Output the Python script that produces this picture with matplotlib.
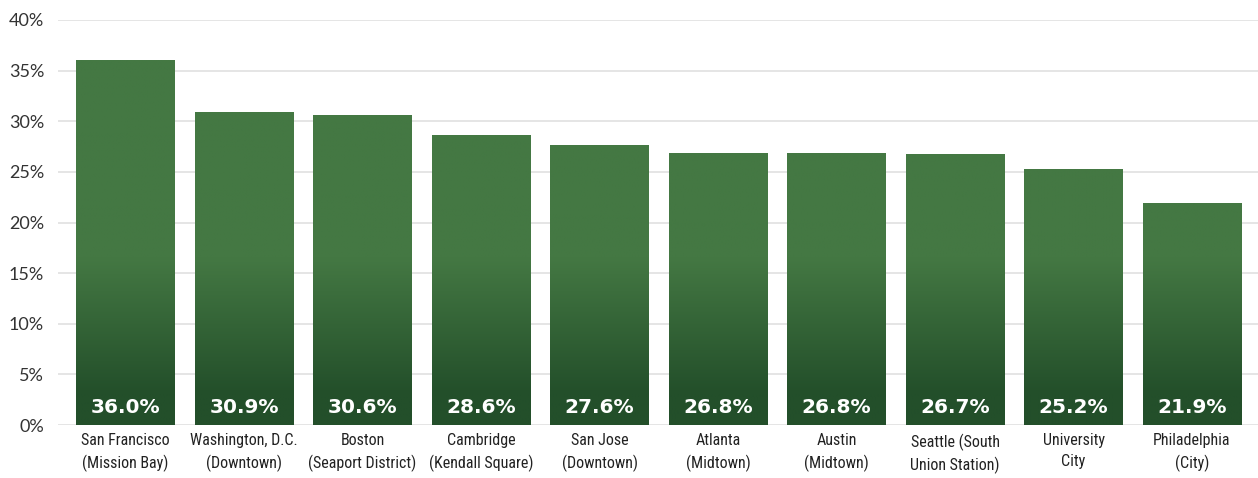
import numpy as np
import matplotlib
matplotlib.use("Agg")
import matplotlib.pyplot as plt
from matplotlib.colors import LinearSegmentedColormap

# data
cities = ["San Francisco\n(Mission Bay)", "Washington, D.C.\n(Downtown)",
          "Boston\n(Seaport District)", "Cambridge\n(Kendall Square)",
          "San Jose\n(Downtown)", "Atlanta\n(Midtown)", "Austin\n(Midtown)",
          "Seattle (South\nUnion Station)", "University\nCity",
          "Philadelphia\n(City)"]
values = [36.0, 30.9, 30.6, 28.6, 27.6, 26.8, 26.8, 26.7, 25.2, 21.9]
yticks = [0, 5, 10, 15, 20, 25, 30, 35, 40]

dark = "#234f2a"
light = "#447843"
cmap = LinearSegmentedColormap.from_list("grn", [dark, light])

fig = plt.figure(figsize=(12.58, 4.78), dpi=100)
ax = fig.add_axes([58 / 1258, 53 / 478, 1200 / 1258, 405 / 478])

x = np.arange(len(values))
width = 0.835
bars = ax.bar(x, values, width=width, color="none", zorder=2)

# vertical gradient, same absolute band for every bar
ygrid = np.linspace(0, 40, 400)
grad = np.clip((ygrid - 3.0) / (16.5 - 3.0), 0, 1).reshape(-1, 1)
for b in bars:
    x0, w, h = b.get_x(), b.get_width(), b.get_height()
    n = int(h / 40 * 400)
    ax.imshow(grad[:max(n, 1)], cmap=cmap, vmin=0, vmax=1, origin="lower",
              extent=[x0, x0 + w, 0, h], aspect="auto", zorder=2,
              interpolation="bilinear")

for xi, v in zip(x, values):
    ax.text(xi, 1.7, f"{v:.1f}%", ha="center", va="center", color="white",
            fontsize=14.5, fontweight="bold", family="DejaVu Sans", zorder=3)

ax.set_xlim(-0.57, 9.557)
ax.set_ylim(0, 40)
ax.set_yticks(yticks)
ax.set_yticklabels([f"{t}%" for t in yticks])
ax.yaxis.grid(True, color="#e0e0e0", linewidth=1.2, zorder=0)
ax.set_axisbelow(True)
ax.tick_params(axis="y", length=0, pad=10, labelsize=13, labelcolor="#333333")
for lab in ax.get_yticklabels():
    lab.set_family("Lato")
ax.set_xticks(x)
ax.set_xticklabels(cities, fontsize=11.5,
                   family=["Roboto Condensed", "Liberation Sans Narrow", "Roboto"],
                   fontstretch="condensed", color="#222222", linespacing=1.45)
ax.tick_params(axis="x", length=0, pad=6)
for s in ax.spines.values():
    s.set_visible(False)

fig.savefig("out.png", dpi=100)
